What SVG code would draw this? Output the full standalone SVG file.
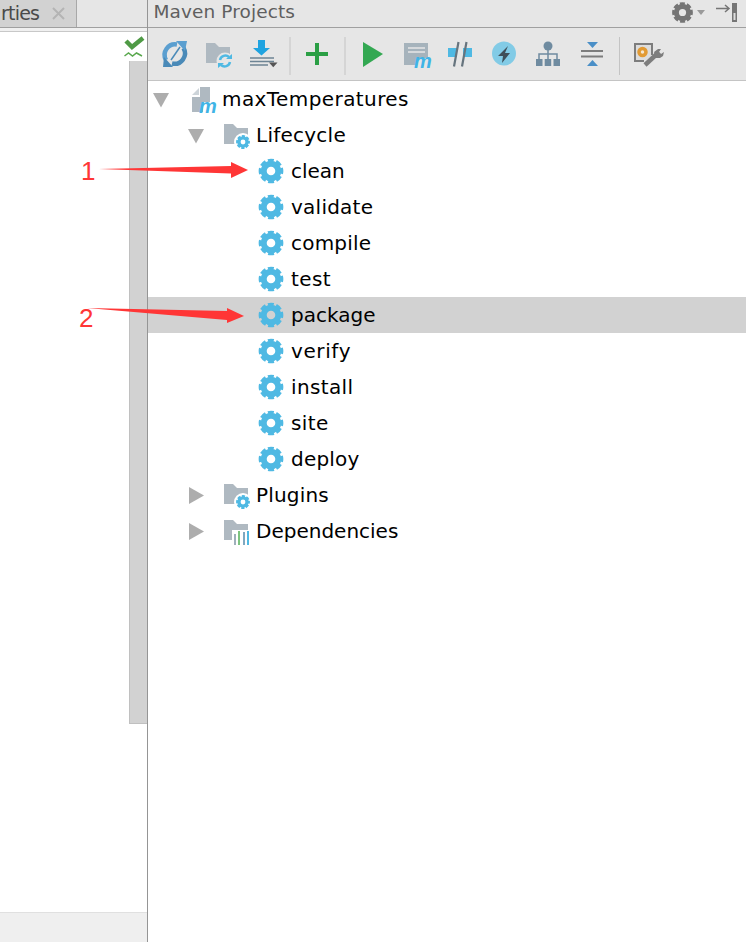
<svg xmlns="http://www.w3.org/2000/svg" xmlns:xlink="http://www.w3.org/1999/xlink" width="746" height="942" viewBox="0 0 746 942">
<style>
.t{font-family:"DejaVu Sans",sans-serif;font-size:20px;fill:#000}
.h{font-family:"DejaVu Sans",sans-serif;font-size:18.5px;fill:#5f5f5f}
.m{font-family:"Liberation Sans",sans-serif;font-size:20px;font-style:italic;font-weight:bold;fill:#3fb4e6}
.tri{fill:#adadad}
.sep{stroke:#c4c4c4;stroke-width:1}
.folder{fill:#afb9c1}
.red{fill:#ff3636}
.num{font-family:"Liberation Sans",sans-serif;font-size:26px;fill:#ff3636}
.ring{fill:none;stroke-width:6}
.teeth{fill:none;stroke-width:3.500;stroke-dasharray:5.800 2.447;stroke-dashoffset:2.900}
</style>
<defs>
<g id="gear">
<circle class="ring" r="7.300" stroke="#4fb9e3"/>
<circle class="teeth" r="10.600" stroke="#4fb9e3"/>
</g>
<path id="fold" class="folder" d="M0 0h9l4 4h11v16H0z"/>
</defs>
<rect width="746" height="942" fill="#fff"/>

<g id="left-panel">
<rect x="0" y="0" width="147" height="28" fill="#e6e6e6"/>
<rect x="0" y="0" width="76" height="27" fill="#d2d2d2"/>
<rect x="76" y="0" width="1" height="27" fill="#a8a8a8"/>
<rect x="0" y="27" width="147" height="1" fill="#a0a0a0"/>
<rect x="0" y="28" width="147" height="3" fill="#f0f0f0"/>
<rect x="0" y="31" width="147" height="1" fill="#c8c8c8"/>
<text x="1" y="20" textLength="39" style="font-family:'DejaVu Sans',sans-serif;font-size:19px;fill:#4a4a4a">rties</text>
<path d="M53 8l11 11M64 8L53 19" stroke="#b4b4b4" stroke-width="2" fill="none"/>
<path d="M126 41l6 6 11-9" fill="none" stroke="#4f9a45" stroke-width="4.500"/>
<path d="M124.500 56l4-3 4 3 4-3 5.500 3" fill="none" stroke="#5aa84e" stroke-width="1.500"/>
<rect x="129" y="61" width="18" height="663" fill="#d2d2d2"/>
<rect x="129" y="61" width="1" height="663" fill="#c0c0c0"/>
<rect x="129" y="723" width="18" height="1" fill="#c0c0c0"/>
<rect x="0" y="912" width="147" height="30" fill="#efefef"/>
<rect x="0" y="912" width="147" height="1" fill="#e0e0e0"/>
</g>

<g id="right-header">
<rect x="148" y="0" width="598" height="27" fill="#e6e6e6"/>
<rect x="148" y="27" width="598" height="1" fill="#a0a0a0"/>
<text class="h" x="153.500" y="18" textLength="141.500">Maven Projects</text>
<g id="header-gear" transform="translate(682.500 12.500) scale(.84)">
<circle class="ring" r="7.300" stroke="#757575"/>
<circle class="teeth" r="10.600" stroke="#757575"/>
</g>
<path d="M697 10h8l-4 5z" fill="#9a9a9a"/>
<path d="M716 8.500h13M725 5l4 3.500-4 3.500" fill="none" stroke="#757575" stroke-width="1.500"/>
<rect x="732" y="3" width="5" height="19" fill="#757575"/>
<rect x="733.500" y="13" width="2" height="7" fill="#ddd"/>
</g>

<g id="toolbar">
<rect x="148" y="28" width="598" height="52" fill="#e6e6e6"/>
<rect x="148" y="80" width="598" height="1" fill="#c4c4c4"/>
<g id="tb-refresh">
<path d="M166 60A10.500 10.500 0 0 1 177 44.500" fill="none" stroke="#5b9fd0" stroke-width="4.500"/>
<path d="M183.500 48A10.500 10.500 0 0 1 172 63.500" fill="none" stroke="#4a8ab8" stroke-width="4.500"/>
<path d="M176 41h11l-2 10z" fill="#5b9fd0"/>
<path d="M173 67h-10l1-10z" fill="#4a8ab8"/>
<path d="M171 60l9-13" stroke="#4a8ab8" stroke-width="1.500"/>
</g>
<g id="tb-folder">
<use href="#fold" xlink:href="#fold" transform="translate(206 43)"/>
<circle cx="225" cy="61" r="8.500" fill="#e6e6e6"/>
<path d="M220 60a5.500 5.500 0 0 1 9-3M230 62a5.500 5.500 0 0 1-9 3" fill="none" stroke="#4fb9e3" stroke-width="2.500"/>
<path d="M226 59h6v-5zM224 63h-6v5z" fill="#4fb9e3"/>
</g>
<g id="tb-download">
<path d="M258 40h7v8h5l-8.500 7.500-8.500-7.500h5z" fill="#1fa3e0"/>
<path d="M250 58h24M250 61.500h24M250 65h18" stroke="#6d8494" stroke-width="1.700"/>
<path d="M269 62.500h8.500l-4.250 4.750z" fill="#555"/>
</g>
<line class="sep" x1="290" y1="37" x2="290" y2="75"/>
<path id="tb-add" d="M315 43h4v9h9v4h-9v9h-4v-9h-9v-4h9z" fill="#2b9f45"/>
<line class="sep" x1="345" y1="37" x2="345" y2="75"/>
<path id="tb-run" d="M363 42l20 12-20 13z" fill="#33a852"/>
<g id="tb-mvn">
<path d="M404 43h24v15h-8l-4 3v4h-12z" fill="#a6b3bc"/>
<path d="M408 48h17M408 52h17" stroke="#e6e6e6" stroke-width="1.500"/>
<text class="m" x="414" y="68" textLength="16">m</text>
</g>
<g id="tb-toggle">
<rect x="448" y="48" width="9" height="9" fill="#4fb9e3"/>
<rect x="463" y="48" width="9" height="9" fill="#4fb9e3"/>
<path d="M458.500 42l-4.500 24.500M466.500 42l-4.500 24.500" stroke="#66747e" stroke-width="2.200"/>
</g>
<g id="tb-bolt">
<circle cx="504" cy="53.500" r="12" fill="#82cbe6"/>
<path d="M508 46l-10 10h5l-1 7 8-10h-5z" fill="#3f4e58"/>
</g>
<g id="tb-tree" fill="#6f8ba0">
<circle cx="548" cy="46" r="4.500"/>
<rect x="536" y="59" width="6.500" height="7"/><rect x="544.700" y="59" width="6.500" height="7"/><rect x="553.500" y="59" width="6.500" height="7"/>
<path d="M548 50v9M539 59v-5h18v5" fill="none" stroke="#6f8ba0" stroke-width="1.500"/>
</g>
<g id="tb-collapse">
<path d="M587 42h11l-5.500 6z" fill="#4a8fc7"/>
<path d="M581 51h22M581 56.500h22" stroke="#7d7d7d" stroke-width="2"/>
<path d="M587 66h11l-5.500-6z" fill="#4a8fc7"/>
</g>
<line class="sep" x1="619.500" y1="37" x2="619.500" y2="75"/>
<g id="tb-settings">
<path d="M634 43h19v12h-2v-10h-15v15h8v2h-10z" fill="#7d7d7d"/>
<rect x="636" y="45" width="15" height="15" fill="#ddd"/>
<circle cx="642.500" cy="52" r="3.500" fill="#f4e6d0" stroke="#e29a33" stroke-width="3.500"/>
<path d="M659 52l-14 13" stroke="#7d7d7d" stroke-width="4.500"/>
<path d="M654 52l4-3 3 0-2 3 2 2 3-2-1 4-3 2-4 0z" fill="#7d7d7d"/>
</g>
</g>

<g id="selection"><rect x="148" y="297" width="598" height="36" fill="#d2d2d2"/></g>
<rect id="divider" x="147" y="0" width="1" height="942" fill="#959595"/>

<g id="node-root">
<path class="tri" d="M153 93h16l-8 14.500z"/>
<path d="M200 87h10v15h-10z" fill="#afb9c1"/>
<path d="M192 97h8v5h3v10h-11z" fill="#afb9c1"/>
<path d="M192 95l7-7v7z" fill="#cdd4d9"/>
<text class="m" x="199" y="113" textLength="16">m</text>
<text class="t" x="222" y="106" textLength="186.500">maxTemperatures</text>
</g>
<g id="node-lifecycle">
<path class="tri" d="M188 129h16l-8 14.500z"/>
<use href="#fold" xlink:href="#fold" transform="translate(224 124)"/>
<circle cx="243" cy="142" r="9" fill="#fff"/>
<use href="#gear" xlink:href="#gear" transform="translate(243 142) scale(.56)"/>
<text class="t" x="256" y="142" textLength="89.700">Lifecycle</text>
</g>
<g id="node-clean"><use href="#gear" xlink:href="#gear" transform="translate(271 171)"/><text class="t" x="291" y="178">clean</text></g>
<g id="node-validate"><use href="#gear" xlink:href="#gear" transform="translate(271 207)"/><text class="t" x="291" y="214" textLength="82">validate</text></g>
<g id="node-compile"><use href="#gear" xlink:href="#gear" transform="translate(271 243)"/><text class="t" x="291" y="250" textLength="80">compile</text></g>
<g id="node-test"><use href="#gear" xlink:href="#gear" transform="translate(271 279)"/><text class="t" x="291" y="286" textLength="39.500">test</text></g>
<g id="node-package"><use href="#gear" xlink:href="#gear" transform="translate(271 315)"/><text class="t" x="291" y="322">package</text></g>
<g id="node-verify"><use href="#gear" xlink:href="#gear" transform="translate(271 351)"/><text class="t" x="291" y="358" textLength="59.500">verify</text></g>
<g id="node-install"><use href="#gear" xlink:href="#gear" transform="translate(271 387)"/><text class="t" x="291" y="394" textLength="62">install</text></g>
<g id="node-site"><use href="#gear" xlink:href="#gear" transform="translate(271 423)"/><text class="t" x="291" y="430" textLength="37.200">site</text></g>
<g id="node-deploy"><use href="#gear" xlink:href="#gear" transform="translate(271 459)"/><text class="t" x="291" y="466" textLength="68.300">deploy</text></g>
<g id="node-plugins">
<path class="tri" d="M189 487l15 8.500-15 8.500z"/>
<use href="#fold" xlink:href="#fold" transform="translate(224 484)"/>
<circle cx="243" cy="502" r="9" fill="#fff"/>
<use href="#gear" xlink:href="#gear" transform="translate(243 502) scale(.56)"/>
<text class="t" x="256" y="502" textLength="72.700">Plugins</text>
</g>
<g id="node-dependencies">
<path class="tri" d="M189 523l15 8.500-15 8.500z"/>
<use href="#fold" xlink:href="#fold" transform="translate(224 520)"/>
<rect x="232" y="530" width="19" height="16" fill="#fff"/>
<g stroke-width="2">
<path d="M235 534v11" stroke="#9fb0bb"/><path d="M239 531v14" stroke="#7cc47f"/><path d="M244 532v13" stroke="#7fa8c0"/><path d="M248 531v14" stroke="#4fb9e3"/>
</g>
<text class="t" x="256" y="538">Dependencies</text>
</g>

<g id="connectors">
<path class="red" d="M99 169l132-3v-4l17 8-17 8v-4.500z"/>
<path class="red" d="M87 308l140 3v-3l17 8-17 7v-3z"/>
</g>
<text class="num" x="81" y="180">1</text>
<text class="num" x="79" y="327">2</text>
</svg>
